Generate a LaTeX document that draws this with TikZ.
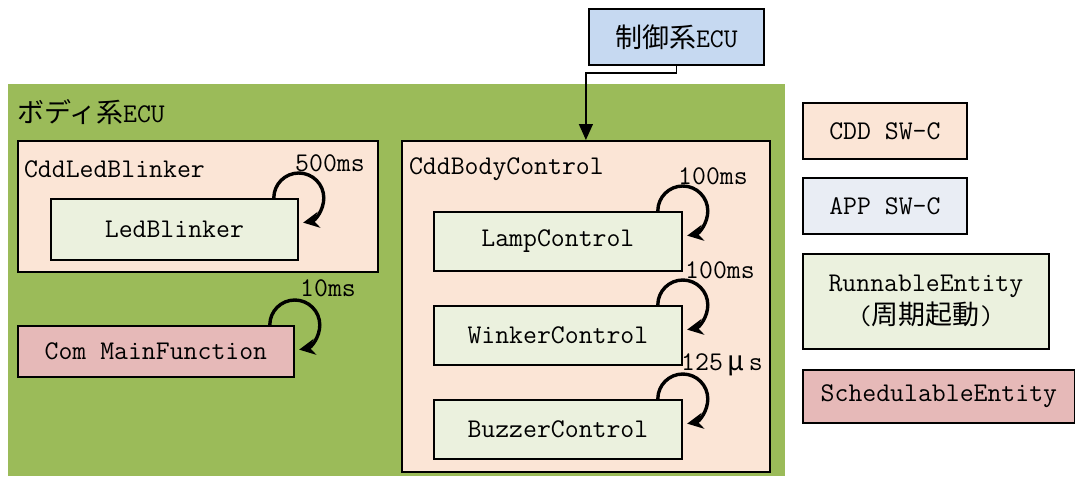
\documentclass[tikz,border=0pt]{standalone}
\usepackage{fontspec}
\newfontfamily\jp{Noto Sans CJK JP}
\usepackage{tikz}
\usetikzlibrary{calc,arrows.meta}

\definecolor{ecugreen}{RGB}{155,187,89}
\definecolor{cddpeach}{RGB}{251,229,214}
\definecolor{runnablegreen}{RGB}{235,241,222}
\definecolor{schedpink}{RGB}{230,185,184}
\definecolor{ctrlblue}{RGB}{198,217,241}
\definecolor{appblue}{RGB}{233,237,244}

\begin{document}
\begin{tikzpicture}[x=0.5pt,y=-0.5pt,
    every node/.style={font=\fontsize{13.5}{16.5}\selectfont\ttfamily},
    box/.style={draw,line width=0.9pt,inner sep=0pt,anchor=north west},
    swc/.style={box,fill=cddpeach},
    runnable/.style={box,fill=runnablegreen,minimum width=124pt,minimum height=29.5pt},
    cyc/.style={line width=1.7pt,-{Stealth[length=8pt,width=8pt]}}]
    \useasboundingbox (0,0) rectangle (1075,478);

    % ECUs
    \node (bodyecu) [anchor=north west,fill=ecugreen,inner sep=0pt,minimum width=388.5pt,minimum height=196pt] at (8,84) {};
    \node (bodylabel) [anchor=west] at (10,112) {{\jp ボディ系}ECU};
    \node (ctrl) [box,fill=ctrlblue,minimum width=87.5pt,minimum height=28pt] at (588,8) {{\jp 制御系}ECU};

    % CddLedBlinker
    \node (cddled) [swc,minimum width=180pt,minimum height=65.5pt] at (17,140) {};
    \node (cddledlabel) [anchor=west] at (17,169) {CddLedBlinker};
    \node (led) [box,fill=runnablegreen,minimum width=123.5pt,minimum height=30.5pt] at (50,198) {LedBlinker};
    \node (com) [box,fill=schedpink,minimum width=138pt,minimum height=25.5pt] at (17,325) {Com MainFunction};

    % CddBodyControl
    \node (cddbody) [swc,minimum width=184pt,minimum height=165.5pt] at (401,140) {};
    \node (cddbodylabel) [anchor=west] at (402,169) {CddBodyControl};
    \node (lamp) [runnable] at (433,211) {LampControl};
    \node (winker) [runnable] at (433,305) {WinkerControl};
    \node (buzzer) [runnable] at (433,399) {BuzzerControl};

    % periods
    \node (tled) at (330,163) {500ms};
    \node (tcom) at (328,288) {10ms};
    \node (tlamp) at (713,176) {100ms};
    \node (twinker) at (720,270) {100ms};
    \node (tbuzzer) at (722,365) {125\,{\jp μ}\,s};

    \foreach \n in {led,com,lamp,winker,buzzer}
      \draw[cyc] ($(\n.north east)+(-25,0)$) arc[start angle=180,end angle=440,radius=25];

    \draw[line width=0.7pt,-{Triangle[length=8pt,width=7pt]}] (ctrl.south) -- ++(0,7) -| (cddbody.north);

    % legend
    \node (lcdd) [swc,minimum width=82pt,minimum height=28pt] at (802,102) {CDD SW-C};
    \node (lapp) [box,fill=appblue,minimum width=82pt,minimum height=28pt] at (802,177) {APP SW-C};
    \node (lrun) [box,fill=runnablegreen,minimum width=123pt,minimum height=47.5pt,align=center] at (802,253) {RunnableEntity\\({\jp 周期起動})};
    \node (lsched) [box,fill=schedpink,minimum width=136pt,minimum height=26.5pt] at (802,369) {SchedulableEntity};
\end{tikzpicture}
\end{document}
